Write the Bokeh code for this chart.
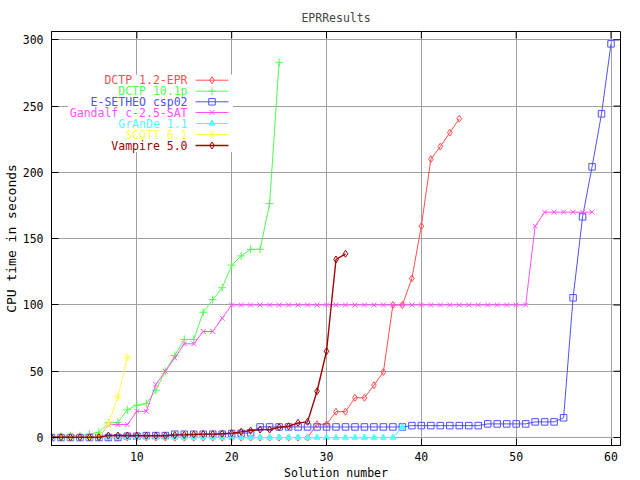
from bokeh.plotting import figure
from bokeh.models import Range1d, FixedTicker, ColumnDataSource
from bokeh.embed import file_html
from bokeh.resources import INLINE
from bokeh.core.properties import value

# ---------------- data ----------------
names = ["DCTP 1.2-EPR", "DCTP 10.1p", "E-SETHEO csp02", "Gandalf c-2.5-SAT",
         "GrAnDe 1.1", "SCOTT 6.1", "Vampire 5.0"]

dctp12_y = [0] * 28 + [10, 10, 19.5, 19.5, 30, 30, 39.5, 49.5, 100, 100,
                       120, 159.5, 210, 219.5, 230, 240.5]
dctp10_y = [0, 1, 1.3, 1.5, 2.5, 4, 11, 11.5, 21, 24.4, 25.6, 35.7, 50, 62,
            74, 74, 94.5, 104, 113, 130, 137, 142, 142, 176.5, 283]
esetheo_y = ([0] * 8 + [1] * 2 + [1.5] * 3 + [2.5] * 6 + [3.0, 3.2, 3.6] +
             [8.0] * 16 + [9.0] * 8 + [10.3] * 5 + [11.8] * 3 +
             [14.9, 105.4, 166.5, 204.2, 244.2, 297])
gandalf_y = ([0] * 6 + [9.8] * 3 + [19.8] * 2 +
             [40, 50, 60, 70.7, 70.7, 80, 80, 90] + [100] * 32 +
             [159.4] + [170] * 6)
grande_y = [0] * 37 + [8.0]
scott_y = [0, 0, 0, 0, 0, 0.5, 10.3, 30.7, 60.6]
vampire_y = ([0.2] * 6 + [1.5] * 4 + [1.4] * 3 +
             [1.8, 2.0, 2.3, 2.6, 2.6, 2.9, 3.3, 4.3, 5.3, 6.0, 6.0, 7.8, 8.5,
              11.1, 11.8, 34.9, 65.1, 134.3, 138.6])

series_y = [dctp12_y, dctp10_y, esetheo_y, gandalf_y, grande_y, scott_y, vampire_y]

x_ticks = [10, 20, 30, 40, 50, 60]
y_ticks = [0, 50, 100, 150, 200, 250, 300]

# ---------------- styles ----------------
colors = ["#ff5050", "#50ff50", "#5050ff", "#ff50ff", "#50ffff", "#ffff50", "#a00000"]
markers = ["diamond", "cross", "square", "x", "triangle", "asterisk", "diamond"]
msizes = [7, 8, 6.5, 7, 6, 8, 7]
fills = [False, False, False, False, True, False, False]
lwidths = [1, 1, 1, 1, 1, 1, 1.4]

FONT = "DejaVu Sans Mono"
FW, FH = 569, 414
TICK = 7

p = figure(frame_width=FW, frame_height=FH,
           x_range=Range1d(1, 61), y_range=Range1d(-6.0, 306.3),
           output_backend="svg", toolbar_location=None,
           min_border_left=43, min_border_right=12, min_border_top=31,
           min_border_bottom=34, title="EPRResults")
p.extra_x_ranges = {"sx": Range1d(0, FW)}
p.extra_y_ranges = {"sy": Range1d(FH, 0)}

p.title.align = "center"
p.title.text_font = FONT
p.title.text_font_size = "11.5px"
p.title.text_font_style = "normal"
p.title.standoff = 14

p.outline_line_color = "black"
p.background_fill_color = "white"
p.border_fill_color = "white"

for ax in (p.xaxis[0], p.yaxis[0]):
    ax.major_tick_in = TICK
    ax.major_tick_out = 0
    ax.minor_tick_in = 0
    ax.minor_tick_out = 0
    ax.axis_line_color = "black"
    ax.major_tick_line_color = "black"
    ax.major_label_text_font = FONT
    ax.major_label_text_font_size = "11.5px"
    ax.major_label_text_color = "black"
    ax.axis_label_text_font = FONT
    ax.axis_label_text_font_style = "normal"
    ax.axis_label_text_color = "black"

p.xaxis[0].ticker = FixedTicker(ticks=x_ticks)
p.yaxis[0].ticker = FixedTicker(ticks=y_ticks)
p.xaxis[0].axis_label = "Solution number"
p.yaxis[0].axis_label = "CPU time in seconds"
p.xaxis[0].axis_label_text_font_size = "11.5px"
p.yaxis[0].axis_label_text_font_size = "13px"
p.xaxis[0].major_label_standoff = 6
p.xaxis[0].axis_label_standoff = 2
p.yaxis[0].major_label_standoff = 8
p.yaxis[0].axis_label_standoff = 1

for g in (p.xgrid[0], p.ygrid[0]):
    g.grid_line_color = "#a0a0a0"
    g.grid_line_width = 1
p.xgrid[0].ticker = FixedTicker(ticks=x_ticks)
p.ygrid[0].ticker = FixedTicker(ticks=y_ticks)

# mirrored ticks on the top and right border (gnuplot style)
p.segment(x0=x_ticks, x1=x_ticks, y0=[0] * len(x_ticks), y1=[TICK] * len(x_ticks),
          y_range_name="sy", line_color="black", line_width=1)
p.segment(x0=[FW - TICK] * len(y_ticks), x1=[FW] * len(y_ticks), y0=y_ticks, y1=y_ticks,
          x_range_name="sx", line_color="black", line_width=1)

# ---------------- series ----------------
for name, ys, c, m, s, f, lw in zip(names, series_y, colors, markers, msizes, fills, lwidths):
    xs = list(range(1, len(ys) + 1))
    src = ColumnDataSource(dict(x=xs, y=ys))
    p.line("x", "y", source=src, line_color=c, line_width=lw)
    p.scatter("x", "y", source=src, marker=m, size=s, line_color=c,
              fill_color=c if f else None, line_width=1)

# ---------------- legend (gnuplot style: text left, sample right) ----------------
row_y = [48.7, 59.7, 70.3, 81.0, 92.0, 103.0, 114.0]
leg = ColumnDataSource(dict(tx=[136] * 7, y=row_y, text=names, color=colors,
                            x0=[144] * 7, x1=[177] * 7, mx=[160.5] * 7,
                            marker=markers, size=msizes, lw=lwidths,
                            fill=[c if f else None for c, f in zip(colors, fills)]))
p.quad(left=[16.5], right=[181.5], top=[43], bottom=[120.5], x_range_name="sx",
       y_range_name="sy", fill_color="white", line_color=None)
p.text(x="tx", y="y", text="text", source=leg, text_color="color", text_align="right",
       text_baseline="middle", text_font=value(FONT), text_font_size="11.5px",
       x_range_name="sx", y_range_name="sy")
p.segment(x0="x0", x1="x1", y0="y", y1="y", source=leg, line_color="color",
          line_width="lw", x_range_name="sx", y_range_name="sy")
p.scatter(x="mx", y="y", marker="marker", size="size", source=leg, line_color="color",
          fill_color="fill", x_range_name="sx", y_range_name="sy")

open("out.html", "w").write(file_html(p, INLINE))
